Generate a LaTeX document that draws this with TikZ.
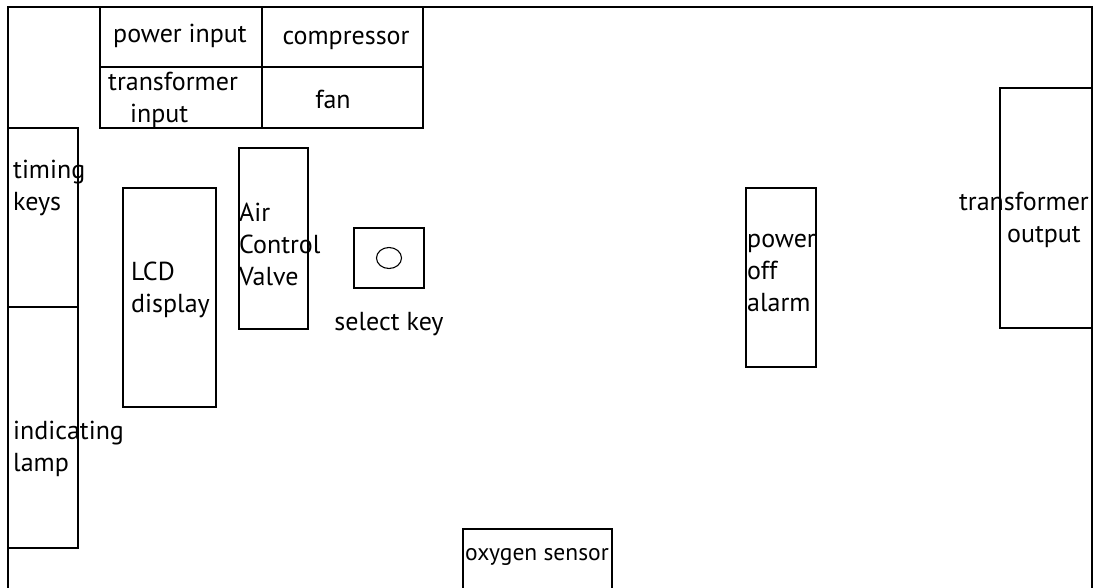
\documentclass[tikz,border=0pt]{standalone}
\usepackage{fontspec}
\setmainfont{PT Sans}
\usetikzlibrary{positioning}

\begin{document}
\begin{tikzpicture}[
    x=1pt, y=-1pt,
    part/.style={draw, rectangle, line width=1.3pt, inner sep=0pt},
    lbl/.style={font=\fontsize{26}{32}\selectfont, inner sep=0pt, align=left},
    frame/.style={line width=1.3pt}
]

\useasboundingbox (0,0) rectangle (1093,587);
\clip (0,0) rectangle (1093,587);

% Outer case, open at the bottom
\draw[frame] (8,600) |- (1092,7) -- (1092,600);

% Top terminal block
\node[part, minimum width=162pt, minimum height=60pt] (pwrin) at (181,37) {};
\node[part, minimum width=161pt, minimum height=60pt] (comp) at (342.5,37) {};
\node[part, minimum width=162pt, minimum height=61pt] (trin) at (181,97.5) {};
\node[part, minimum width=161pt, minimum height=61pt] (fan) at (342.5,97.5) {};
\node[lbl] at (180,36) {power input};
\node[lbl] at (346,40) {compressor};
\node[lbl, anchor=west] at (108,100) {transformer\\\hspace*{22pt}input};
\node[lbl] at (333,99) {fan};

% Left side panel
\node[part, minimum width=70pt, minimum height=179pt] (timing) at (43,217.5) {};
\node[part, minimum width=70pt, minimum height=241pt] (lamp) at (43,427.5) {};
\node[lbl, anchor=west] at (13,188) {timing\\keys};
\node[lbl, anchor=west] at (13,449) {indicating\\lamp};

% Display and valve
\node[part, minimum width=93pt, minimum height=219pt] (lcd) at (169.5,297.5) {};
\node[lbl, anchor=west] at (131,290) {LCD\\display};
\node[part, minimum width=69pt, minimum height=181pt] (valve) at (273.5,238.5) {};
\node[lbl, anchor=west] at (239,244) {Air\\Control\\Valve};

% Select key
\node[part, minimum width=70pt, minimum height=60pt] (selkey) at (389,258) {};
\draw[line width=1.1pt] (selkey.center) ellipse [x radius=12.5pt, y radius=10.5pt];
\node[lbl, below=23pt of selkey] (selkeylbl) {select key};

% Right side
\node[part, minimum width=70pt, minimum height=179pt] (alarm) at (781,277.5) {};
\node[lbl, anchor=west] at (747,273) {power\\off\\alarm};
\node[part, minimum width=92pt, minimum height=240pt] (trout) at (1046,208) {};
\node[lbl, align=right, anchor=east] at (1089,220) {transformer\\output\hspace*{8pt}};

% Bottom
\node[part, minimum width=149pt, minimum height=91pt] (oxy) at (537.5,574.5) {};
\node[lbl, font=\fontsize{23.5}{28}\selectfont] at (537,557) {oxygen sensor};

\end{tikzpicture}
\end{document}
